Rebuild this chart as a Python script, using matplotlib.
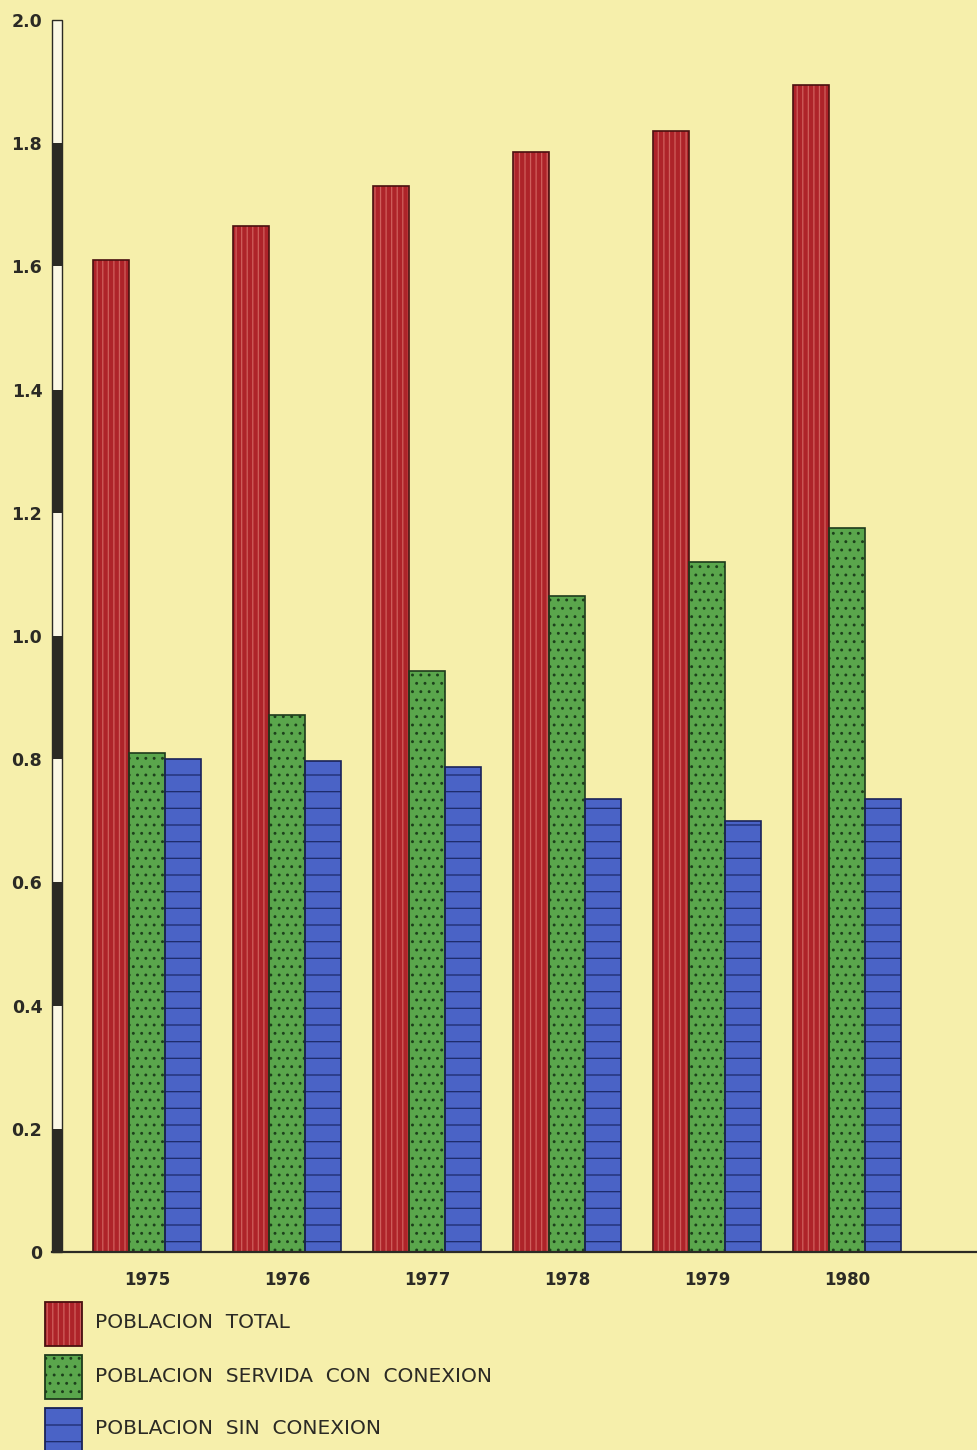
import matplotlib
matplotlib.use("Agg")
import matplotlib.pyplot as plt
from matplotlib.patches import Rectangle
import numpy as np

# ---- data ----
years = ["1975", "1976", "1977", "1978", "1979", "1980"]
poblacion_total = [1.61, 1.665, 1.73, 1.785, 1.82, 1.895]
poblacion_servida = [0.81, 0.872, 0.943, 1.065, 1.12, 1.175]
poblacion_sin = [0.80, 0.797, 0.788, 0.735, 0.70, 0.735]
series_labels = ["POBLACION  TOTAL", "POBLACION  SERVIDA  CON  CONEXION", "POBLACION  SIN  CONEXION"]
ytick_vals = [0.0, 0.2, 0.4, 0.6, 0.8, 1.0, 1.2, 1.4, 1.6, 1.8, 2.0]
ytick_labels = ["0", "0.2", "0.4", "0.6", "0.8", "1.0", "1.2", "1.4", "1.6", "1.8", "2.0"]

# ---- style ----
bg = "#f6efab"
fills = ["#ae2329", "#5aa64c", "#4a63c6"]
hatch_cols = ["#cf5f5c", "#1c3f1b", "#1d2a6a"]
edge_cols = ["#4a1010", "#1f3a1c", "#1a2358"]
hatches = ["|||", "..", "-"]
dark = "#2b2a24"

plt.rcParams["hatch.linewidth"] = 0.9
plt.rcParams["font.family"] = ["DejaVu Sans"]

W, H = 978, 1450
fig = plt.figure(figsize=(W / 100, H / 100), dpi=100)
fig.patch.set_facecolor(bg)

left_px, right_px, base_px, top_px = 52, 978, 1252, 20
ax = fig.add_axes([left_px / W, 1 - base_px / H, (right_px - left_px) / W, (base_px - top_px) / H])
ax.set_facecolor(bg)

step = 140.0
bw = 36 / step
x = np.arange(len(years))
x0 = (left_px - 147) / step
ax.set_xlim(x0, x0 + (right_px - left_px) / step)
ax.set_ylim(0, 2.0)

series = [poblacion_total, poblacion_servida, poblacion_sin]
offsets = [-bw, 0, bw]
for vals, off, fc, hc, ec, ht in zip(series, offsets, fills, hatch_cols, edge_cols, hatches):
    ax.bar(x + off, vals, width=bw, color=fc, edgecolor=hc, hatch=ht, linewidth=0, zorder=2)
    ax.bar(x + off, vals, width=bw, fill=False, edgecolor=ec, linewidth=1.2, zorder=3)

# scale bar axis (alternating black / white blocks)
sb_w = 10 / step
for i in range(len(ytick_vals) - 1):
    y0, y1 = ytick_vals[i], ytick_vals[i + 1]
    col = dark if i % 2 == 0 else "#fbf8e6"
    ax.add_patch(Rectangle((x0, y0), sb_w, y1 - y0, facecolor=col, edgecolor="none",
                           zorder=4, clip_on=False))
ax.add_patch(Rectangle((x0, 0), sb_w, 2.0, facecolor="none", edgecolor=dark,
                       linewidth=1.0, zorder=5, clip_on=False))

for s in ["left", "top", "right"]:
    ax.spines[s].set_visible(False)
ax.spines["bottom"].set_color(dark)
ax.spines["bottom"].set_linewidth(1.6)
ax.spines["bottom"].set_zorder(6)

ax.set_yticks(ytick_vals)
ax.set_yticklabels(ytick_labels, fontsize=12.5, fontweight="bold", color=dark)
ax.tick_params(axis="y", length=0, pad=7)
ax.set_xticks(x)
ax.set_xticklabels(years, fontsize=12, fontweight="bold", color=dark)
ax.tick_params(axis="x", length=0, pad=14)

# ---- legend ----
box_l, box_w = 45, 37
box_tops = [1302, 1355, 1408]
box_h = 44
for lab, top, fc, hc, ec, ht in zip(series_labels, box_tops, fills, hatch_cols, edge_cols, hatches):
    fig.add_artist(Rectangle((box_l / W, 1 - (top + box_h) / H), box_w / W, box_h / H,
                             transform=fig.transFigure, facecolor=fc, edgecolor=hc,
                             hatch=ht, linewidth=0))
    fig.add_artist(Rectangle((box_l / W, 1 - (top + box_h) / H), box_w / W, box_h / H,
                             transform=fig.transFigure, fill=False, edgecolor=ec, linewidth=1.3))
    fig.text(95 / W, 1 - (top + 21) / H, lab, fontsize=14.5, color=dark,
             ha="left", va="center")

fig.savefig("out.png", dpi=100, facecolor=bg)
